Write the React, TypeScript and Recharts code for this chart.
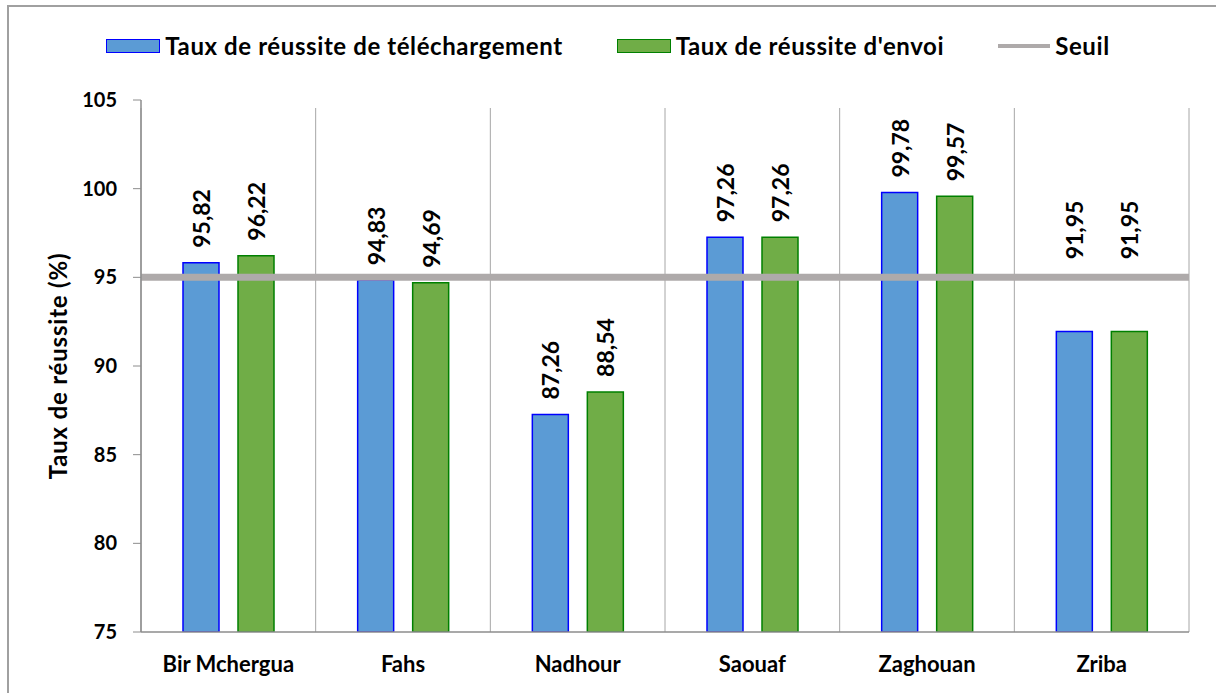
import React from 'react'
import { BarChart, Bar, XAxis, YAxis, ReferenceLine, Legend, LabelList } from 'recharts'

const categories = ['Bir Mchergua', 'Fahs', 'Nadhour', 'Saouaf', 'Zaghouan', 'Zriba']
const downloadRates = [95.82, 94.83, 87.26, 97.26, 99.78, 91.95]
const sendRates = [96.22, 94.69, 88.54, 97.26, 99.57, 91.95]
const threshold = 95
const yTicks = [75, 80, 85, 90, 95, 100, 105]

const data = categories.map((name, i) => ({
  name,
  download: downloadRates[i],
  send: sendRates[i],
}))

const FONT = 'Lato, "Open Sans", sans-serif'
const BLUE = '#5b9bd5'
const GREEN = '#70ad47'
const LINE_GRAY = '#aeaaaa'
const AXIS_GRAY = '#8c8c8c'
const GRID_GRAY = '#a6a6a6'

const fmt = (v: number) => v.toFixed(2).replace('.', ',')

// rotated value label; pushed above the threshold line if it would cross it
function ValueLabel(props: any) {
  const { x, y, width, height, value } = props
  if (value == null) return null
  const bottom = y + height
  const pxPerUnit = height / (value - yTicks[0])
  const lineY = bottom - (threshold - yTicks[0]) * pxPerUnit
  const textLen = 60
  let labelBottom = y - 15
  const labelTop = labelBottom - textLen
  if (lineY + 3.5 > labelTop && lineY - 3.5 < labelBottom) {
    labelBottom = lineY - 18
  }
  const cx = x + width / 2
  return (
    <text
      x={cx}
      y={labelBottom}
      transform={`rotate(-90, ${cx}, ${labelBottom})`}
      textAnchor="start"
      dominantBaseline="central"
      fontFamily={FONT}
      fontWeight={700}
      fontSize={23}
      fill="#000"
    >
      {fmt(value)}
    </text>
  )
}

function LegendContent() {
  const item = { display: 'flex', alignItems: 'center' } as const
  const text = {
    fontFamily: FONT,
    fontWeight: 700,
    fontSize: 24,
    letterSpacing: 0.6,
    color: '#000',
    marginLeft: 5,
    lineHeight: '24px',
  }
  return (
    <div style={{ display: 'flex', justifyContent: 'center', height: 24, alignItems: 'center' }}>
      <div style={item}>
        <div style={{ width: 52, height: 12, background: BLUE, border: '1.5px solid #0000ff' }} />
        <span style={text}>Taux de réussite de téléchargement</span>
      </div>
      <div style={{ ...item, marginLeft: 54 }}>
        <div style={{ width: 52, height: 12, background: GREEN, border: '1.5px solid #008000' }} />
        <span style={text}>Taux de réussite d'envoi</span>
      </div>
      <div style={{ ...item, marginLeft: 54 }}>
        <div style={{ width: 52, height: 4, background: LINE_GRAY }} />
        <span style={text}>Seuil</span>
      </div>
    </div>
  )
}

// category boundary lines, running a little below the x axis like tick marks
const boundaryShape = (props: any) => (
  <line x1={props.x1} y1={props.y1} x2={props.x2} y2={props.y2 + 8} stroke={GRID_GRAY} strokeWidth={1} />
)

export default function App() {
  return (
    <div style={{ position: 'absolute', left: 0, top: 0, width: 1216, height: 693, background: '#fff' }}>
      <div
        style={{
          position: 'absolute',
          left: 7,
          top: 5,
          width: 1209,
          height: 688,
          borderTop: '2px solid #a0a0a0',
          borderLeft: '2px solid #a0a0a0',
        }}
      />
      <div style={{ position: 'absolute', left: 0, top: 0 }}>
        <BarChart
          width={1216}
          height={693}
          data={data}
          margin={{ top: 76, right: 27, bottom: 31, left: 0 }}
          barSize={36}
          barGap={19}
        >
          <Legend
            verticalAlign="top"
            content={<LegendContent />}
            wrapperStyle={{ top: 34, left: 0, width: 1216 }}
          />
          <XAxis
            dataKey="name"
            axisLine={{ stroke: AXIS_GRAY, strokeWidth: 1.5 }}
            tickLine={false}
            tickSize={8}
            tickMargin={16}
            interval={0}
            tick={{ fill: '#000', fontFamily: FONT, fontWeight: 700, fontSize: 22 }}
          />
          <YAxis
            width={141}
            domain={[75, 105]}
            ticks={yTicks}
            allowDataOverflow
            axisLine={{ stroke: AXIS_GRAY, strokeWidth: 1.5 }}
            tickLine={{ stroke: AXIS_GRAY }}
            tickSize={8}
            tickMargin={16}
            tick={{ fill: '#000', fontFamily: FONT, fontWeight: 700, fontSize: 20 }}
            label={{
              value: 'Taux de réussite (%)',
              angle: -90,
              position: 'center',
              dx: -12,
              style: { fontFamily: FONT, fontWeight: 700, fontSize: 24, letterSpacing: 0.8, fill: '#000' },
            }}
          />
          {categories.map((c) => (
            <ReferenceLine key={c} x={c} position="start" ifOverflow="visible" shape={boundaryShape} />
          ))}
          <ReferenceLine
            x={categories[categories.length - 1]}
            position="end"
            ifOverflow="visible"
            shape={boundaryShape}
          />
          <Bar dataKey="download" fill={BLUE} stroke="#0000ff" strokeWidth={1.5} isAnimationActive={false}>
            <LabelList dataKey="download" content={ValueLabel} />
          </Bar>
          <Bar dataKey="send" fill={GREEN} stroke="#008000" strokeWidth={1.5} isAnimationActive={false}>
            <LabelList dataKey="send" content={ValueLabel} />
          </Bar>
          <ReferenceLine y={threshold} stroke={LINE_GRAY} strokeWidth={7} ifOverflow="visible" />
        </BarChart>
      </div>
    </div>
  )
}
